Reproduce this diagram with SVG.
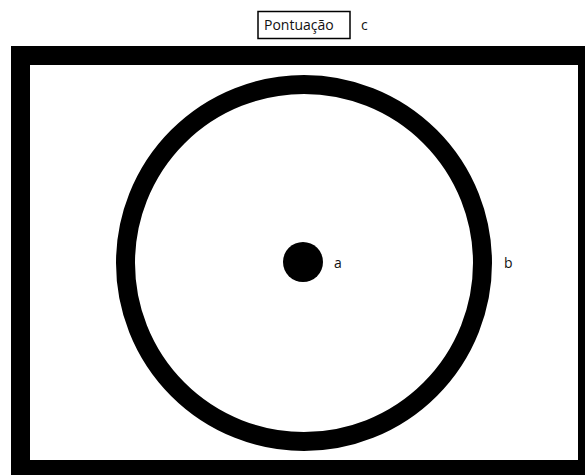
<svg xmlns="http://www.w3.org/2000/svg" width="585" height="475" viewBox="0 0 585 475">
<style>
text{font-family:"Open Sans","Noto Sans","Liberation Sans",sans-serif;font-size:14px;fill:#111}
</style>
<rect width="585" height="475" fill="#fff"/>
<g id="frame"><path d="M11 46H585V475H11Z M30 65V460H578V65Z" fill="#000" fill-rule="evenodd"/></g>
<g id="target"><circle cx="304" cy="263" r="178.5" fill="none" stroke="#000" stroke-width="19"/></g>
<g id="dot"><circle cx="303" cy="262" r="20" fill="#000"/></g>
<g id="labels">
<text x="334" y="268">a</text>
<text x="504" y="268">b</text>
</g>
<g id="title">
<rect x="258" y="11.5" width="92" height="27" fill="#fff" stroke="#000" stroke-width="1.5"/>
<text x="264" y="30">Pontuação</text>
<text x="361" y="30">c</text>
</g>
</svg>
